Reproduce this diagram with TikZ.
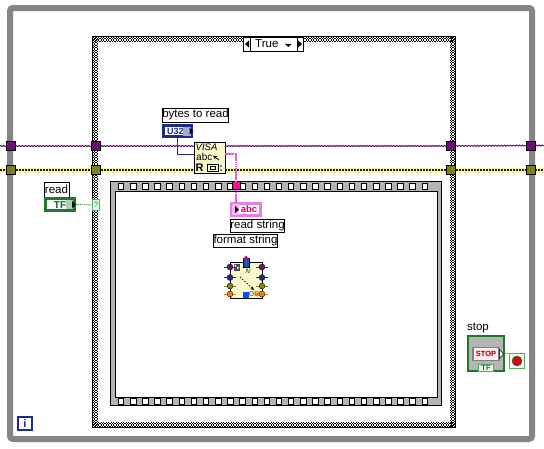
\documentclass[tikz,border=0pt]{standalone}
\usepackage{fontspec}
\setmainfont{Liberation Sans}
\usetikzlibrary{shapes.geometric,decorations.pathmorphing}
\definecolor{loopgray}{HTML}{858585}
\definecolor{filmgray}{HTML}{B4B4B4}
\definecolor{purp}{HTML}{6B0F70}
\definecolor{oliv}{HTML}{7F7F1E}
\definecolor{wirey}{HTML}{F6F6B0}
\definecolor{ublue}{HTML}{1B2A8C}
\definecolor{pinkw}{HTML}{E060D8}
\definecolor{tfgreen}{HTML}{1E7A2A}
\definecolor{icony}{HTML}{FBF8CF}
\definecolor{pinkfill}{HTML}{F8B8F0}
\tikzset{
 tunnelP/.style={draw=black,line width=.5pt,fill=purp,minimum size=9pt,inner sep=0pt},
 tunnelO/.style={draw=black,line width=.5pt,fill=oliv,minimum size=9pt,inner sep=0pt},
 labelbox/.style={draw=black,line width=.9pt,fill=white,inner sep=0pt,font=\fontsize{11.5}{12}\selectfont},
 purpwire/.style={purp,line width=1pt,decorate,decoration={zigzag,segment length=3pt,amplitude=.5pt}},
 yelback/.style={wirey,line width=5pt},
 yelwire/.style={black!75!oliv,line width=1.6pt,dash pattern=on 2pt off 1pt},
 checkA/.style={black,line width=1.25pt,dash pattern=on 1.25pt off 1.25pt},
 checkB/.style={black,line width=1.25pt,dash pattern=on 1.25pt off 1.25pt,dash phase=1.25pt},
 filmhole/.style={draw=black,line width=.8pt,fill=white,minimum size=5.5pt,inner sep=0pt},
 pinkwire/.style={pinkw,line width=2pt,dash pattern=on 1.4pt off .5pt},
 termpin/.style={circle,inner sep=0pt,minimum size=6pt,line width=.3pt,draw=black},
 iconbox/.style={draw=black,line width=.9pt,fill=icony,inner sep=0pt},
}
\begin{document}
\begin{tikzpicture}[x=1pt,y=-1pt,line cap=butt]
\useasboundingbox (0,0) rectangle (544,448);
\fill[white] (0,0) rectangle (544,448);
% while loop
\draw[loopgray,line width=6pt,rounded corners=3pt] (10,439) -- (10,8) -- (532,8) -- (532,439) -- cycle;
% case structure checker border
\fill[white] (92,36) rectangle (456,428);
\foreach \o/\s in {0/checkA,1/checkB,2/checkA,3/checkB}{
  \draw[\s] (93,{37.6+1.25*\o}) -- (455,{37.6+1.25*\o});
  \draw[\s] (93,{422.6+1.25*\o}) -- (455,{422.6+1.25*\o});
  \draw[\s] ({93.6+1.25*\o},37) -- ({93.6+1.25*\o},427);
  \draw[\s] ({450.6+1.25*\o},37) -- ({450.6+1.25*\o},427);
}
\draw[black,line width=.8pt] (92.5,36.5) rectangle (455.5,427.5);
% selector
\node[draw=black,line width=.8pt,fill=white,minimum width=60pt,minimum height=14pt,inner sep=0pt,font=\fontsize{11.5}{12}\selectfont] (sel) at (273.5,44) {True\ \ \raisebox{1pt}{\tikz[x=1pt,y=1pt]\fill(0,3)--(7,3)--(3.5,0)--cycle;}};
\draw[black,line width=.8pt] (250,37) -- (250,51) (297,37) -- (297,51);
\fill[black] (245,44) -- (249,40.5) -- (249,47.5) -- cycle (302,44) -- (298,40.5) -- (298,47.5) -- cycle;
% sequence film
\fill[filmgray] (110.5,181.5) rectangle (441.5,405.5);
\fill[white] (115.5,191.5) rectangle (437,397);
\draw[black,line width=.8pt] (110.5,181.5) rectangle (441.5,405.5);
\draw[black,line width=.8pt] (115.5,191.5) rectangle (437,397);
\foreach \i in {0,...,25}{
  \node[filmhole] at ({121+12.15*\i},186.5) {};
  \node[filmhole] at ({121+12.15*\i},401.5) {};
}
% tunnels and wires
\node[tunnelP] (p1) at (11,146) {};
\node[tunnelP] (p2) at (96,146) {};
\node[tunnelP] (p3) at (451,146) {};
\node[tunnelP] (p4) at (530.5,145.5) {};
\node[tunnelO] (o1) at (11,170) {};
\node[tunnelO] (o2) at (96,170) {};
\node[tunnelO] (o3) at (451,170) {};
\node[tunnelO] (o4) at (530.5,170) {};
\coordinate (pL) at (0,146); \coordinate (pR) at (544,145.5);
\coordinate (oL) at (0,170); \coordinate (oR) at (544,170);
\coordinate (vpl) at (194,146); \coordinate (vpr) at (225,146);
\coordinate (vol) at (194,170); \coordinate (vor) at (225,170);
% wires
\foreach \a/\b in {pL/p1,p1/p2,p2/vpl,vpr/p3,p3/p4,p4/pR}
  {\draw[purpwire] (\a) -- (\b);}
\foreach \a/\b in {oL/o1,o1/o2,o2/vol,vor/o3,o3/o4,o4/oR}{
  \draw[yelback] (\a) -- (\b);
  \draw[yelwire] (\a) -- (\b);}
\foreach \n in {p1,p2,p3,p4}{\node[tunnelP] at (\n) {};}
\foreach \n in {o1,o2,o3,o4}{\node[tunnelO] at (\n) {};}
% VISA node
\node[iconbox,minimum width=31pt,minimum height=31pt] (visa) at (209.5,157.5) {};
\node[font=\fontsize{9.5}{10}\selectfont\itshape,inner sep=0pt,anchor=west] (visat) at (195.5,147.5) {VISA};
\node[font=\fontsize{10}{10}\selectfont,inner sep=0pt,anchor=west] (abct) at (196,157) {abc};
\draw[black,line width=.8pt,-stealth] (219,160) -- (213,155.5);
\node[font=\fontsize{11}{11}\selectfont\bfseries,inner sep=0pt] (rt) at (199.5,168) {R};
\draw[black,line width=.9pt] (207.5,164.5) rectangle (218,171);
\draw[black,line width=.6pt] (210,166.5) rectangle (215,169.5);
\fill[black] (221,166) circle (.9pt) (221,170) circle (.9pt);
% bytes to read
\node[labelbox,minimum width=66pt,minimum height=14pt] (btr) at (195.5,115) {bytes to read};
\node[draw=ublue,line width=2.6pt,fill=white,minimum width=28.5pt,minimum height=11.5pt,inner sep=0pt] (u32) at (177.5,131) {};
\fill[ublue!40] (183,126.5) rectangle (190.5,135.5);
\node[font=\fontsize{9}{9}\selectfont\bfseries\color{ublue},inner sep=0pt] (u32t) at (175.5,131) {U32};
\fill[black] (193,131) -- (189.5,127.5) -- (189.5,134.5) -- cycle;
\coordinate (ublev) at (0,154.5);
\draw[ublue,line width=1pt] (u32.south) |- (visa.west |- ublev);
% read indicator
\node[labelbox,minimum width=25pt,minimum height=15pt] (readl) at (56.5,189.5) {read};
\node[draw=tfgreen,line width=3pt,fill=white,minimum width=28.5pt,minimum height=12pt,inner sep=0pt] (tf) at (60,204.5) {};
\fill[tfgreen!35] (66,200) rectangle (73,209);
\node[font=\fontsize{10}{10}\selectfont\bfseries\color{tfgreen!80!black},inner sep=0pt] (tft) at (60,205) {TF};
\fill[black] (76,204.5) -- (72,201) -- (72,208) -- cycle;
\node[draw=tfgreen!70,line width=.6pt,fill=green!12!white,minimum width=7pt,minimum height=11pt,inner sep=0pt,font=\fontsize{8}{8}\selectfont\color{tfgreen}] (q) at (96,205) {?};
\draw[tfgreen,line width=.9pt,dash pattern=on 1pt off 1pt] (tf.east) -- (q.west);
% pink
\coordinate (bend) at (236,153.5);
\node[draw=black,line width=.5pt,fill=magenta!90!pink,minimum size=8pt,inner sep=0pt] (ptun) at (236,185.5) {};
\node[draw=pinkw!80,line width=2.6pt,fill=white,minimum width=29pt,minimum height=12pt,inner sep=0pt] (abc) at (246,209.5) {};
\fill[pinkfill] (232,204) rectangle (239,215);
\node[font=\fontsize{9.5}{9.5}\selectfont\bfseries\color{purple!70!magenta},inner sep=0pt] (abctxt) at (249,209.5) {abc};
\fill[black] (239,209.5) -- (235,206) -- (235,213) -- cycle;
\draw[pinkwire] (visa.east |- bend) -- (bend) -- (ptun.north);
\draw[pinkwire] (ptun.south) -- (236,203);
\node[labelbox,minimum width=54pt,minimum height=13.5pt] (rs) at (257.5,226) {read string};
\node[labelbox,minimum width=64pt,minimum height=13.5pt] (fs) at (245.5,241) {format string};
% format icon
\node[iconbox,minimum width=32pt,minimum height=36pt] (fmt) at (246,280) {};
\draw[black,line width=.7pt,dash pattern=on 1.5pt off 1.5pt,-stealth] (240,277) -- (254,290);
\fill[black!70] (233.5,264) rectangle (240,270.5);
\fill[white] (234.5,265) rectangle (236,266.5) (237,267) rectangle (238.5,268.5);
\node[font=\fontsize{6}{6}\selectfont,inner sep=0pt] (fi) at (248,271) {/\textbackslash/};
\node[font=\fontsize{7}{7}\selectfont\bfseries,text=oliv,inner sep=0pt] (ob) at (256,294.5) {OBJ};
\node[draw=black,line width=.3pt,fill=ublue!80!cyan,minimum width=6.5pt,minimum height=9pt,inner sep=0pt] (ft) at (246,263) {};
\fill[purple!70!magenta] (246,255.5) -- (249,259) -- (243,259) -- cycle;
\node[fill=blue!70!cyan,minimum size=6.5pt,inner sep=0pt] (fb) at (246,295) {};
\foreach \x/\y/\c in {230/267/purp,230/277.5/ublue,230/286/oliv,230/294/orange!70!brown,262/267/purp,262/277.5/ublue,262/286/oliv,262/294/orange!70!brown}{
  \draw[\c,line width=.9pt] ({\x-6},\y) -- ({\x+6},\y);
  \node[termpin,fill=\c] at (\x,\y) {};
}
% stop
\node[font=\fontsize{11.5}{12}\selectfont,inner sep=0pt] (stopl) at (478,327.5) {stop};
\node[draw=tfgreen,line width=2.4pt,fill=filmgray,minimum width=35.5pt,minimum height=35pt,inner sep=0pt] (stopb) at (486,353.5) {};
\node[draw=gray,line width=1.8pt,fill=red!8!white,minimum width=26pt,minimum height=13pt,inner sep=0pt,font=\fontsize{7.5}{7.5}\selectfont\bfseries\color{red!60!black}] (stopt) at (486,354) {STOP};
\node[draw=tfgreen!70,line width=.6pt,fill=green!8!white,minimum width=15pt,minimum height=6.5pt,inner sep=0pt,font=\fontsize{7.5}{6.5}\selectfont\bfseries\color{tfgreen}] (stf) at (486,368) {TF};
\node[draw=tfgreen!70,line width=.6pt,fill=green!8!white,minimum size=15.5pt,inner sep=0pt] (cond) at (517,361) {};
\fill[black!70] (517,361) circle (5.3pt);
\fill[red!90!black] (517,361) circle (4pt);
\draw[black,fill=white,line width=.5pt] (499.5,349.5) -- (503.5,354) -- (499.5,358.5) -- cycle;
\coordinate (stopout) at (503.5,354);
\draw[tfgreen,line width=.8pt,dash pattern=on 1pt off 1pt] (stopout) -- (cond.north west);
% i
\node[draw=ublue,line width=1.8pt,fill=white,minimum size=13.5pt,inner sep=0pt,font=\fontsize{11}{11}\selectfont\bfseries\color{ublue}] (iter) at (25,423.5) {i};
\end{tikzpicture}
\end{document}
